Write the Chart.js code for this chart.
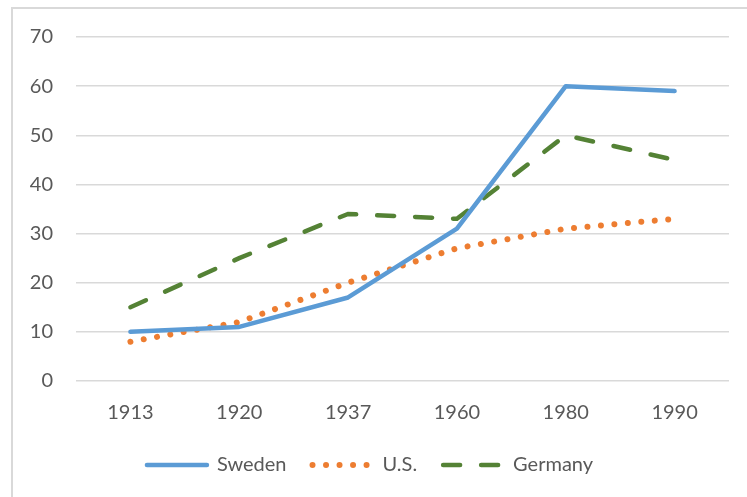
<!DOCTYPE html>
<html>
<head>
<meta charset="utf-8">
<script src="https://cdn.jsdelivr.net/npm/chart.js@4/dist/chart.umd.min.js"></script>
<style>
  html, body { margin: 0; padding: 0; background: #fff; }
  #wrap { position: relative; width: 747px; height: 497px; overflow: hidden; }
  #frame {
    position: absolute; left: 11px; top: 7px; width: 800px; height: 600px;
    border-left: 2px solid #d9d9d9; border-top: 2px solid #d9d9d9;
  }
  canvas { position: absolute; left: 0; top: 0; }
</style>
</head>
<body>
<div id="wrap">
  <div id="frame"></div>
  <canvas id="chart" width="747" height="497"></canvas>
</div>
<script>
const years = ['1913', '1920', '1937', '1960', '1980', '1990'];
const sweden = [10, 11, 17, 31, 60, 59];
const us = [8, 12, 20, 27, 31, 33];
const germany = [15, 25, 34, 33, 50, 45];

const TEXT = '#595959';
const GRID = '#d9d9d9';
const FONT = { family: "Lato, 'Open Sans', sans-serif", size: 20 };

// legend items take their look from the dataset line, not the point
function legendLabels(chart) {
  return chart.data.datasets.map((ds, i) => ({
    text: ds.label,
    datasetIndex: i,
    fontColor: TEXT,
    fillStyle: ds.borderColor,
    strokeStyle: ds.borderColor,
    lineWidth: ds.borderWidth,
    lineDash: ds.borderDash || [],
    lineCap: 'round',
    pointStyle: 'line',
    hidden: false,
  }));
}

new Chart(document.getElementById('chart'), {
  type: 'line',
  data: {
    labels: years,
    datasets: [
      {
        label: 'Sweden',
        data: sweden,
        borderColor: '#5b9bd5',
        borderWidth: 4.5,
        borderCapStyle: 'round',
        borderJoinStyle: 'round',
        pointRadius: 0,
        tension: 0,
      },
      {
        label: 'U.S.',
        data: us,
        borderColor: '#ed7d31',
        borderWidth: 6,
        borderDash: [0.01, 13.5],
        borderCapStyle: 'round',
        pointRadius: 0,
        tension: 0,
      },
      {
        label: 'Germany',
        data: germany,
        borderColor: '#548235',
        borderWidth: 4.5,
        borderDash: [17, 21],
        borderCapStyle: 'round',
        pointRadius: 0,
        tension: 0,
      },
    ],
  },
  options: {
    responsive: false,
    animation: false,
    layout: { padding: { left: 11, right: 18, top: 37, bottom: 12 } },
    scales: {
      x: {
        offset: true,
        grid: { display: false, drawTicks: false },
        border: { display: false },
        ticks: { color: TEXT, font: FONT, padding: 20, maxRotation: 0 },
        afterFit: s => { s.height = 48; },
      },
      y: {
        min: 0,
        max: 70,
        grid: { color: GRID, lineWidth: 1.5, drawTicks: false },
        border: { display: false },
        ticks: { stepSize: 10, color: TEXT, font: FONT, padding: 23 },
        afterFit: s => { s.width = 65; },
      },
    },
    plugins: {
      legend: {
        position: 'bottom',
        labels: {
          color: TEXT,
          font: FONT,
          usePointStyle: true,
          pointStyle: 'line',
          pointStyleWidth: 60,
          padding: 26,
          generateLabels: legendLabels,
        },
      },
      tooltip: { enabled: false },
    },
  },
});
</script>
</body>
</html>
